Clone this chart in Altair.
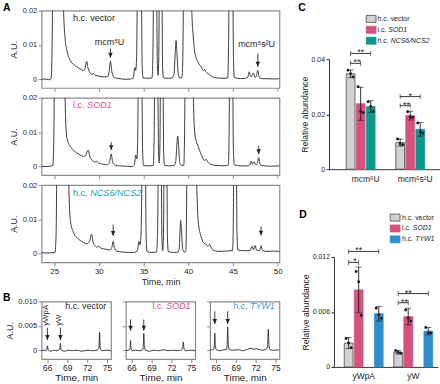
import altair as alt
import pandas as pd

# ---------------- Panel A: chromatograms (time, min ; absorbance, A.U.) ----------------
A1_trace = [(23.6, 0.0000), (24.0, 0.0001), (24.4, -0.0001), (24.65, 0.0002), (24.75, 0.006), (24.85, 0.03),
            (25.4, 0.09), (25.95, 0.03), (26.08, 0.018), (26.25, 0.0113), (26.43, 0.0084), (26.8, 0.0055),
            (27.2, 0.0043), (27.55, 0.0036), (27.9, 0.003), (28.26, 0.0026), (28.45, 0.0031), (28.63, 0.0053),
            (28.8, 0.0032), (29.07, 0.0018), (29.25, 0.0014), (29.44, 0.0017), (29.6, 0.0012), (30.1, 0.0009),
            (30.6, 0.0007), (31.0, 0.0008), (31.15, 0.0022), (31.3, 0.0053), (31.45, 0.0022), (31.75, 0.0005),
            (32.4, 0.0002), (33.03, 0.0000), (33.5, 0.0001), (33.85, 0.0004), (34.02, 0.0034), (34.12, 0.0026),
            (34.22, 0.006), (34.32, 0.03), (34.55, 0.07), (34.75, 0.03), (34.85, 0.004), (34.95, 0.0004),
            (35.5, 0.0003), (35.95, 0.0004), (36.05, 0.008), (36.12, 0.03), (36.3, 0.06), (36.45, 0.03),
            (36.55, 0.004), (36.62, 0.0012), (36.7, 0.006), (36.77, 0.03), (36.9, 0.06), (37.05, 0.03),
            (37.13, 0.004), (37.22, 0.0005), (37.7, 0.0003), (38.2, 0.0004), (38.4, 0.0015), (38.55, 0.008),
            (38.64, 0.0113), (38.73, 0.008), (38.88, 0.0015), (39.05, 0.0004), (39.3, 0.0006), (39.4, 0.008),
            (39.48, 0.03), (39.9, 0.1), (40.3, 0.03), (40.42, 0.018), (40.55, 0.0128), (40.73, 0.0079),
            (41.1, 0.005), (41.46, 0.0036), (41.7, 0.0025), (41.83, 0.0029), (41.95, 0.0022), (42.2, 0.0017),
            (42.75, 0.0007), (43.3, 0.0004), (44.0, 0.0003), (44.4, 0.0004), (44.5, 0.008), (44.58, 0.03),
            (44.78, 0.07), (44.98, 0.03), (45.06, 0.006), (45.15, 0.0006), (45.8, 0.0002), (46.4, 0.0003),
            (46.65, 0.0006), (46.82, 0.0022), (46.98, 0.0008), (47.12, 0.0009), (47.3, 0.0018), (47.45, 0.0006),
            (47.6, 0.0008), (47.78, 0.0026), (47.95, 0.0005), (48.3, 0.0002), (48.8, 0.0002), (49.4, 0.0001),
            (50.2, 0.0002)]
A2_trace = [(23.6, 0.0001), (24.1, 0.0000), (24.5, 0.0001), (24.85, 0.0003), (24.95, 0.006), (25.05, 0.03),
            (25.6, 0.09), (26.15, 0.03), (26.28, 0.014), (26.43, 0.0083), (26.8, 0.0059), (27.15, 0.0048),
            (27.53, 0.004), (27.9, 0.0034), (28.26, 0.003), (28.5, 0.0032), (28.81, 0.0048), (29.0, 0.0028),
            (29.36, 0.0016), (29.55, 0.0013), (29.73, 0.0016), (29.95, 0.0011), (30.43, 0.0007), (30.9, 0.0005),
            (31.2, 0.0013), (31.38, 0.0037), (31.55, 0.0013), (31.85, 0.0004), (32.3, 0.0002), (33.0, 0.0001),
            (33.73, 0.0000), (33.98, 0.0006), (34.13, 0.0034), (34.24, 0.0022), (34.33, 0.006), (34.42, 0.03),
            (34.62, 0.07), (34.8, 0.03), (34.9, 0.004), (35.0, 0.0003), (35.6, 0.0002), (36.08, 0.0003),
            (36.18, 0.008), (36.25, 0.03), (36.42, 0.06), (36.58, 0.03), (36.68, 0.004), (36.75, 0.0011),
            (36.83, 0.006), (36.9, 0.03), (37.02, 0.06), (37.17, 0.03), (37.25, 0.004), (37.34, 0.0004),
            (37.9, 0.0002), (38.4, 0.0003), (38.6, 0.0015), (38.73, 0.0065), (38.82, 0.0089), (38.91, 0.0065),
            (39.05, 0.0012), (39.25, 0.0003), (39.5, 0.0004), (39.58, 0.008), (39.66, 0.03), (40.1, 0.1),
            (40.5, 0.03), (40.6, 0.017), (40.73, 0.0097), (41.1, 0.0059), (41.46, 0.0035), (41.8, 0.0018),
            (42.0, 0.0021), (42.2, 0.0013), (42.56, 0.0006), (43.2, 0.0003), (44.0, 0.0002), (44.48, 0.0004),
            (44.56, 0.008), (44.63, 0.03), (44.8, 0.07), (44.97, 0.03), (45.04, 0.006), (45.14, 0.0005),
            (45.9, 0.0002), (46.6, 0.0002), (46.88, 0.0005), (47.04, 0.0016), (47.18, 0.0007), (47.37, 0.0014),
            (47.55, 0.0005), (47.7, 0.0008), (47.88, 0.0026), (48.05, 0.0005), (48.5, 0.0002), (49.2, 0.0001),
            (50.2, 0.0002)]
A3_trace = [(23.6, 0.0004), (24.2, 0.0002), (24.7, 0.0003), (25.1, 0.0004), (25.22, 0.006), (25.32, 0.03),
            (25.95, 0.09), (26.55, 0.03), (26.68, 0.016), (26.8, 0.010), (27.16, 0.0062), (27.5, 0.0048),
            (27.9, 0.0039), (28.3, 0.0033), (28.63, 0.0029), (28.95, 0.0036), (29.18, 0.0057), (29.35, 0.0034),
            (29.55, 0.0024), (29.78, 0.0019), (29.99, 0.0022), (30.25, 0.0016), (30.83, 0.0013), (31.25, 0.0011),
            (31.45, 0.0018), (31.6, 0.0036), (31.75, 0.0018), (32.0, 0.0008), (32.6, 0.0005), (33.3, 0.0004),
            (33.9, 0.0004), (34.3, 0.0008), (34.48, 0.0036), (34.6, 0.0026), (34.72, 0.006), (34.85, 0.03),
            (35.02, 0.07), (35.2, 0.03), (35.3, 0.004), (35.4, 0.0006), (35.9, 0.0004), (36.45, 0.0005),
            (36.58, 0.008), (36.65, 0.03), (36.8, 0.06), (36.97, 0.03), (37.06, 0.004), (37.14, 0.0009),
            (37.23, 0.006), (37.3, 0.03), (37.45, 0.06), (37.6, 0.03), (37.68, 0.004), (37.78, 0.0006),
            (38.4, 0.0004), (38.85, 0.0005), (39.0, 0.0018), (39.08, 0.007), (39.15, 0.0097), (39.24, 0.007),
            (39.38, 0.0013), (39.55, 0.0005), (39.72, 0.0007), (39.79, 0.008), (39.86, 0.03), (40.35, 0.1),
            (40.85, 0.03), (40.97, 0.018), (41.1, 0.0097), (41.46, 0.0048), (41.75, 0.0031), (42.0, 0.0027),
            (42.2, 0.0022), (42.38, 0.0027), (42.6, 0.0016), (42.93, 0.0009), (43.5, 0.0007), (44.3, 0.0008),
            (44.95, 0.0009), (45.03, 0.008), (45.1, 0.03), (45.23, 0.07), (45.38, 0.03), (45.45, 0.006),
            (45.55, 0.0011), (46.2, 0.0009), (46.9, 0.0009), (47.15, 0.0022), (47.3, 0.0012), (47.48, 0.0024),
            (47.65, 0.001), (47.95, 0.0009), (48.14, 0.0024), (48.32, 0.0009), (48.8, 0.0007), (49.5, 0.0008),
            (50.2, 0.0007)]
# arrows: (time, top, tip)
A1_arrows = [(31.3, 0.0090, 0.0063), (47.78, 0.0075, 0.0037)]
A2_arrows = [(31.38, 0.0071, 0.0048), (47.88, 0.0060, 0.0036)]
A3_arrows = [(31.6, 0.0085, 0.0052), (48.14, 0.0080, 0.0053)]
A_xticks = [25, 30, 35, 40, 45, 50]

# ---------------- Panel B: chromatograms 65-75 min ----------------
B1_trace = [(65.15, -0.0001), (65.5, 0.0000), (65.8, -0.0001), (65.93, 0.0002), (66.02, 0.0009), (66.12, 0.0001),
            (66.5, -0.0002), (67.0, 0.0000), (67.5, -0.0001), (67.88, 0.0002), (67.98, 0.0014), (68.08, 0.0001),
            (68.6, -0.0002), (69.2, 0.0000), (69.8, -0.0001), (70.5, 0.0000), (71.2, -0.0002), (72.0, 0.0000),
            (72.8, -0.0001), (73.5, 0.0000), (73.78, 0.0004), (73.88, 0.0037), (73.98, 0.0004), (74.2, -0.0001),
            (74.8, 0.0000), (75.6, -0.0001)]
B2_trace = [(65.15, -0.0001), (65.5, 0.0000), (65.72, 0.0001), (65.8, 0.0008), (65.86, 0.0020), (65.93, 0.0006),
            (66.1, -0.0001), (66.6, 0.0000), (67.2, -0.0001), (67.7, 0.0001), (67.78, 0.0012), (67.85, 0.0035),
            (67.93, 0.0010), (68.1, 0.0000), (68.7, -0.0002), (69.4, 0.0000), (70.1, -0.0001), (70.8, 0.0001),
            (71.5, -0.0001), (72.2, 0.0000), (72.9, -0.0001), (73.55, 0.0001), (73.7, 0.0005), (73.8, 0.0017),
            (73.9, 0.0004), (74.1, -0.0001), (74.8, 0.0000), (75.6, -0.0001)]
B3_trace = [(65.15, 0.0000), (65.5, 0.0001), (65.72, 0.0002), (65.8, 0.0014), (65.86, 0.0035), (65.93, 0.0010),
            (66.1, 0.0001), (66.6, -0.0001), (67.2, 0.0001), (67.65, 0.0002), (67.73, 0.0018), (67.8, 0.0048),
            (67.88, 0.0015), (68.05, 0.0001), (68.7, 0.0000), (69.4, 0.0001), (70.1, -0.0001), (70.8, 0.0002),
            (71.3, 0.0004), (71.7, 0.0002), (72.2, 0.0003), (72.9, 0.0000), (73.6, 0.0002), (73.82, 0.0010),
            (73.92, 0.0043), (74.02, 0.0010), (74.2, 0.0001), (74.8, 0.0000), (75.6, 0.0001)]
B1_arrows = [(66.02, 0.0046, 0.0021), (67.98, 0.0046, 0.0021)]
B2_arrows = [(65.86, 0.0063, 0.0040), (67.85, 0.0063, 0.0040)]
B3_arrows = [(65.86, 0.0080, 0.0054), (67.8, 0.0080, 0.0054)]
B_xticks = [66, 69, 72, 75]

# ---------------- Panel C ----------------
C_groups = ["mcm⁵U", "mcm⁵s²U"]
C_series = ["h.c. vector", "l.c. SOD1", "h.c. NCS6/NCS2"]
C_mean = [[0.0347, 0.0238, 0.0228], [0.0097, 0.0195, 0.0145]]
C_sd = [[0.0014, 0.0060, 0.0021], [0.0013, 0.0016, 0.0025]]
C_points = [[[0.0360, 0.0347, 0.0335], [0.0300, 0.0210, 0.0205], [0.0245, 0.0228, 0.0210]],
            [[0.0110, 0.0093, 0.0089], [0.0209, 0.0190, 0.0188], [0.0168, 0.0136, 0.0131]]]
C_sig = [("mcm⁵U", 0, 2, 0.0421, "**"), ("mcm⁵U", 0, 1, 0.0385, "**"),
         ("mcm⁵s²U", 0, 2, 0.0264, "*"), ("mcm⁵s²U", 0, 1, 0.0231, "**")]

# ---------------- Panel D ----------------
D_groups = ["yWpA", "yW"]
D_series = ["h.c. vector", "l.c. SOD1", "h.c. TYW1"]
D_mean = [[0.0026, 0.0084, 0.0058], [0.0016, 0.0055, 0.0039]]
D_sd = [[0.0006, 0.0025, 0.0008], [0.0002, 0.0009, 0.0004]]
D_points = [[[0.0031, 0.0026, 0.0021], [0.0104, 0.0093, 0.0056], [0.0064, 0.0057, 0.0053]],
            [[0.0018, 0.0016, 0.0015], [0.0062, 0.0053, 0.0050], [0.0043, 0.0037, 0.0037]]]
D_sig = [("yWpA", 0, 2, 0.0126, "**"), ("yWpA", 0, 1, 0.0114, "*"),
         ("yW", 0, 2, 0.0080, "**"), ("yW", 0, 1, 0.0070, "**")]

# ---------------- styles ----------------
FONT = "Liberation Sans"
TXT = "#1e1e1e"
FRAME = "#8a8a8a"
LINE = "#262626"
GRAY = "#d2d2d2"
PINK = "#d5517f"
TEAL = "#10978d"
BLUE = "#2e8ecb"
PINK_T = "#df4f8a"
TEAL_T = "#17a3a3"
BLUE_T = "#3a9bdb"
HEAD = "M-1,-2.2L1,-2.2L0,0Z"
FRAME_VIEW = alt.ViewBackground(stroke=FRAME, strokeWidth=1.2, strokeOpacity=1)

CW = {'h': .556, '.': .278, 'c': .5, ' ': .278, 'l': .222, 'v': .5, 'e': .556, 't': .278, 'o': .556,
      'r': .333, 'S': .667, 'O': .778, 'D': .722, '1': .556, 'N': .722, 'C': .722, '6': .556, '/': .278,
      '2': .556, 'T': .611, 'Y': .667, 'W': .944}


def tw(s, fs):
    return sum(CW.get(ch, .556) for ch in s) * fs


def letter(s, xpx, ypx):
    return alt.Chart(pd.DataFrame({"s": [s]})).mark_text(
        align="left", baseline="alphabetic", fontSize=10.5, fontWeight="bold", color="#000000").encode(
        x=alt.value(xpx), y=alt.value(ypx), text="s:N")


def two_part(X, Y, t, v, prefix, gene, color, fs, align):
    df = pd.DataFrame({"t": [t], "v": [v], "p": [prefix.strip()], "g": [gene]})
    base = alt.Chart(df)
    if align == "left":
        l1 = base.mark_text(align="left", baseline="middle", fontSize=fs, color=color).encode(x=X, y=Y, text="p:N")
        l2 = base.mark_text(align="left", baseline="middle", fontSize=fs, color=color, fontStyle="italic",
                            dx=tw(prefix, fs)).encode(x=X, y=Y, text="g:N")
    else:
        l2 = base.mark_text(align="right", baseline="middle", fontSize=fs, color=color,
                            fontStyle="italic").encode(x=X, y=Y, text="g:N")
        gap = tw(gene + " ", fs) if gene else 0
        l1 = base.mark_text(align="right", baseline="middle", fontSize=fs, color=color,
                            dx=-gap).encode(x=X, y=Y, text="p:N")
    return [l1, l2]


def arrow_layers(X, Y, arrows):
    df = pd.DataFrame({"t": [a[0] for a in arrows], "v": [a[1] for a in arrows], "v2": [a[2] for a in arrows]})
    hd = pd.DataFrame({"t": [a[0] for a in arrows], "v": [a[2] for a in arrows]})
    shaft = alt.Chart(df).mark_rule(color=LINE, strokeWidth=0.9).encode(x=X, y=Y, y2="v2:Q")
    head = alt.Chart(hd).mark_point(shape=HEAD, filled=True, size=20, color=LINE, opacity=1).encode(x=X, y=Y)
    return [shaft, head]


def chrom_A(trace, arrows, show_x, prefix, gene, color, extra=None, extra_layers=None):
    xax = dict(values=A_xticks, tickSize=3.5, tickColor=FRAME, domain=False, grid=False, labels=show_x,
               labelFontSize=8, labelPadding=1.5)
    if show_x:
        xax.update(title="Time, min", titleFontSize=9, titlePadding=2.5)
    else:
        xax.update(title=None)
    X = alt.X("t:Q", scale=alt.Scale(domain=[23.6, 50.2], nice=False, zero=False), axis=alt.Axis(**xax))
    Y = alt.Y("v:Q", scale=alt.Scale(domain=[-0.0025, 0.02], nice=False, zero=False),
              axis=alt.Axis(values=[0, 0.01, 0.02], tickSize=3.5, tickColor=FRAME, domain=False, grid=False,
                            labelExpr="datum.value == 0 ? '0' : format(datum.value, '.2f')",
                            labelFontSize=7.5, labelPadding=1.5, title="A.U.", titleFontSize=9,
                            titlePadding=4))
    df = pd.DataFrame({"t": [p[0] for p in trace], "v": [p[1] for p in trace]})
    line = alt.Chart(df).mark_line(clip=True, color=LINE, strokeWidth=0.9, interpolate="monotone").encode(x=X, y=Y)
    layers = [line] + arrow_layers(X, Y, arrows) + two_part(X, Y, 27.1, 0.0178, prefix, gene, color, 9.2, "left")
    if extra:
        for (t, v, s) in extra:
            layers.append(alt.Chart(pd.DataFrame({"t": [t], "v": [v], "s": [s]})).mark_text(
                align="center", baseline="middle", fontSize=9, color=TXT).encode(x=X, y=Y, text="s:N"))
    if extra_layers:
        layers += extra_layers
    return alt.layer(*layers).properties(width=240, height=78, view=FRAME_VIEW)


def chrom_B(trace, arrows, show_y, prefix, gene, color, extra_rot=None, extra_layers=None):
    yax = dict(values=[0, 0.005, 0.01], tickSize=3.5, tickColor=FRAME, domain=False, grid=False,
               labels=show_y, labelExpr="datum.value == 0 ? '0' : format(datum.value, '.3f')",
               labelFontSize=7.6, labelPadding=1.5)
    if show_y:
        yax.update(title="A.U.", titleFontSize=9, titlePadding=3)
    else:
        yax.update(title=None)
    X = alt.X("t:Q", scale=alt.Scale(domain=[65.15, 75.6], nice=False, zero=False),
              axis=alt.Axis(values=B_xticks, tickSize=3.5, tickColor=FRAME, domain=False, grid=False,
                            labelFontSize=8.5, labelPadding=1, title="Time, min", titleFontSize=10,
                            titlePadding=1))
    Y = alt.Y("v:Q", scale=alt.Scale(domain=[-0.0018, 0.010], nice=False, zero=False), axis=alt.Axis(**yax))
    df = pd.DataFrame({"t": [p[0] for p in trace], "v": [p[1] for p in trace]})
    line = alt.Chart(df).mark_line(clip=True, color=LINE, strokeWidth=0.9, interpolate="monotone").encode(x=X, y=Y)
    layers = [line] + arrow_layers(X, Y, arrows) + two_part(X, Y, 74.9, 0.0091, prefix, gene, color, 9, "right")
    if extra_rot:
        for (t, v, s) in extra_rot:
            layers.append(alt.Chart(pd.DataFrame({"t": [t], "v": [v], "s": [s]})).mark_text(
                align="left", baseline="middle", angle=270, fontSize=8, color=TXT).encode(x=X, y=Y, text="s:N"))
    if extra_layers:
        layers += extra_layers
    return alt.layer(*layers).properties(width=70, height=58, view=FRAME_VIEW)


def circle_path(off_units):
    a, b = off_units - 1, off_units + 1
    return f"M{a},0A1,1 0 1,1 {b},0A1,1 0 1,1 {a},0Z"


def bar_panel(tag, groups, series, fills, strokes, means, sds, points, sigs, ydom, yvals, yfmt, width, po):
    gf, sf = f"group{tag}", f"series{tag}"
    recs = []
    for gi, g in enumerate(groups):
        for si, s in enumerate(series):
            m, sd = means[gi][si], sds[gi][si]
            recs.append({gf: g, sf: s, "mean": m, "lo": m - sd, "hi": m + sd})
    bdf = pd.DataFrame(recs)
    xs = alt.Scale(domain=groups, paddingInner=0, paddingOuter=po, align=1)
    X = alt.X(f"{gf}:N", sort=groups, scale=xs,
              axis=alt.Axis(title=None, ticks=False, tickSize=0, labelAngle=0, labelFontSize=8.5, labelPadding=5,
                            domainColor=TXT, domainWidth=0.9, grid=False))
    XO = alt.XOffset(f"{sf}:N", sort=series, scale=alt.Scale(domain=series, paddingInner=0.13, paddingOuter=0.53))
    ysc = alt.Scale(domain=ydom, nice=False, zero=True)
    yax = alt.Axis(values=yvals, labelExpr=f"datum.value == 0 ? '0' : format(datum.value, '{yfmt}')",
                   tickSize=3, tickColor=TXT, domainColor=TXT, domainWidth=0.9, labelFontSize=7, labelPadding=1.5,
                   title="Relative abundance", titleFontSize=8.7, titlePadding=1.5, grid=False)

    def Y(f):
        return alt.Y(f"{f}:Q", scale=ysc, axis=yax)

    fill = alt.Fill(f"{sf}:N", scale=alt.Scale(domain=series, range=fills), legend=None)
    stroke = alt.Stroke(f"{sf}:N", scale=alt.Scale(domain=series, range=strokes), legend=None)
    bars = alt.Chart(bdf).mark_bar(strokeWidth=0.8).encode(x=X, xOffset=XO, y=Y("mean"), fill=fill, stroke=stroke)
    err = alt.Chart(bdf).mark_rule(color=TXT, strokeWidth=0.9).encode(x=X, xOffset=XO, y=Y("lo"), y2="hi:Q")
    cap_hi = alt.Chart(bdf).mark_tick(orient="horizontal", size=6, thickness=0.9, color=TXT).encode(
        x=X, xOffset=XO, y=Y("hi"))
    cap_lo = alt.Chart(bdf).mark_tick(orient="horizontal", size=6, thickness=0.9, color=TXT).encode(
        x=X, xOffset=XO, y=Y("lo"))
    layers = [bars, err, cap_hi, cap_lo]
    offs = [-2.6, 0.0, 2.6]
    for r in range(3):
        prec = []
        for gi, g in enumerate(groups):
            for si, s in enumerate(series):
                prec.append({gf: g, sf: s, "val": points[gi][si][r]})
        layers.append(alt.Chart(pd.DataFrame(prec)).mark_point(
            shape=circle_path(offs[r] / 1.5), size=9, filled=True, color=TXT, opacity=1).encode(
            x=X, xOffset=XO, y=Y("val")))
    lrec, srec_wide, srec_narrow = [], [], []
    for bi, (g, a, b, yv, lab) in enumerate(sigs):
        lrec.append({"bid": bi, "end": 0, gf: g, sf: series[a], "by": yv})
        lrec.append({"bid": bi, "end": 1, gf: g, sf: series[b], "by": yv})
        if b - a == 2:
            srec_wide.append({gf: g, sf: series[a + 1], "by": yv, "lab": lab})
        else:
            srec_narrow.append({gf: g, sf: series[a], "by": yv, "lab": lab})
    ldf = pd.DataFrame(lrec)
    layers.append(alt.Chart(ldf).mark_line(color=TXT, strokeWidth=0.9).encode(
        x=X, xOffset=XO, y=Y("by"), detail="bid:N", order="end:Q"))
    layers.append(alt.Chart(ldf).mark_tick(orient="vertical", size=5, thickness=0.9, color=TXT).encode(
        x=X, xOffset=XO, y=Y("by")))
    layers.append(alt.Chart(pd.DataFrame(srec_wide)).mark_text(fontSize=9, baseline="alphabetic", dy=2,
                                                               color=TXT).encode(
        x=X, xOffset=XO, y=Y("by"), text="lab:N"))
    layers.append(alt.Chart(pd.DataFrame(srec_narrow)).mark_text(fontSize=9, baseline="alphabetic", dy=2, dx=6.4,
                                                                 color=TXT).encode(
        x=X, xOffset=XO, y=Y("by"), text="lab:N"))
    return alt.layer(*layers).properties(width=width, height=111)


def legend_chart(tag, series, fills, strokes, prefixes, genes, sw_x, tx_x, letter_layer):
    sf = f"series{tag}"
    df = pd.DataFrame({"row": [0, 1, 2], sf: series})
    Y = alt.Y("row:Q", scale=alt.Scale(domain=[-0.7545, 2.518], reverse=True, nice=False, zero=False), axis=None)
    fill = alt.Fill(f"{sf}:N", scale=alt.Scale(domain=series, range=fills), legend=None)
    stroke = alt.Stroke(f"{sf}:N", scale=alt.Scale(domain=series, range=strokes), legend=None)
    sw = alt.Chart(df).mark_point(shape="M-1.4,-1L1.4,-1L1.4,1L-1.4,1Z", size=50, filled=True, opacity=1,
                                  strokeWidth=0.8).encode(x=alt.value(sw_x), y=Y, fill=fill, stroke=stroke)
    layers = [sw]
    for i in range(3):
        d = pd.DataFrame({"row": [i], "p": [prefixes[i].strip()], "g": [genes[i]]})
        layers.append(alt.Chart(d).mark_text(align="left", baseline="middle", fontSize=7, color=TXT).encode(
            x=alt.value(tx_x), y=Y, text="p:N"))
        layers.append(alt.Chart(d).mark_text(align="left", baseline="middle", fontSize=7, color=TXT,
                                             fontStyle="italic", dx=tw(prefixes[i], 7)).encode(
            x=alt.value(tx_x), y=Y, text="g:N"))
    layers.append(letter_layer)
    return alt.layer(*layers).properties(width=110, height=36)


A1 = chrom_A(A1_trace, A1_arrows, False, "h.c. vector", "", TXT,
             extra=[(31.2, 0.0108, "mcm⁵U"), (47.64, 0.0103, "mcm⁵s²U")], extra_layers=[letter("A", -39, 0)])
A2 = chrom_A(A2_trace, A2_arrows, False, "l.c. ", "SOD1", PINK_T)
A3 = chrom_A(A3_trace, A3_arrows, True, "h.c. ", "NCS6/NCS2", TEAL_T)

B1 = chrom_B(B1_trace, B1_arrows, True, "h.c. vector", "", TXT,
             extra_rot=[(65.75, 0.0050, "yWpA"), (67.7, 0.0050, "yW")], extra_layers=[letter("B", -39, -1)])
B2 = chrom_B(B2_trace, B2_arrows, False, "l.c. ", "SOD1", PINK_T)
B3 = chrom_B(B3_trace, B3_arrows, False, "h.c. ", "TYW1", BLUE_T)

C = bar_panel("C", C_groups, C_series, [GRAY, PINK, TEAL], ["#4a4a4a", PINK, TEAL], C_mean, C_sd, C_points,
              C_sig, [0, 0.04], [0, 0.02, 0.04], ".2f", 112, 0.12)
D = bar_panel("D", D_groups, D_series, [GRAY, PINK, BLUE], ["#4a4a4a", PINK, BLUE], D_mean, D_sd, D_points,
              D_sig, [0, 0.012], [0, 0.006, 0.012], ".3f", 105, 0.05)

legC = legend_chart("C", C_series, [GRAY, PINK, TEAL], ["#4a4a4a", PINK, TEAL], ["h.c. vector", "l.c. ", "h.c. "],
                    ["", "SOD1", "NCS6/NCS2"], 42.5, 49, letter("C", -31, 0))
legD = legend_chart("D", D_series, [GRAY, PINK, BLUE], ["#4a4a4a", PINK, BLUE], ["h.c. vector", "l.c. ", "h.c. "],
                    ["", "SOD1", "TYW1"], 66.7, 73.7, letter("D", -30, 9))

spacer = alt.Chart(pd.DataFrame({"z": [0]})).mark_point(opacity=0).encode(
    x=alt.value(0), y=alt.value(0)).properties(width=1, height=1)

A_block = alt.vconcat(A1, A2, A3, spacing=10, bounds="flush")
B_row = alt.hconcat(B1, B2, B3, spacing=15, bounds="flush")
left = alt.vconcat(A_block, B_row, spacing=3.5)
C_block = alt.vconcat(legC, C, spacing=13, bounds="flush")
D_pair = alt.hconcat(spacer, D, spacing=4, bounds="flush")
D_block = alt.vconcat(legD, D_pair, spacing=12, bounds="flush")
right = alt.vconcat(C_block, D_block, spacing=26.5).resolve_scale(fill="independent", stroke="independent")

chart = alt.hconcat(left, right, spacing=15).resolve_scale(
    fill="independent", stroke="independent"
).properties(
    padding={"left": 2, "top": 0, "right": 0, "bottom": 0}
).configure(font=FONT).configure_axis(
    labelColor=TXT, titleColor=TXT, grid=False, titleFontWeight="normal", labelFont=FONT, titleFont=FONT
).configure_view(strokeOpacity=0).configure_text(font=FONT)

chart.save("out.html", embed_options={"renderer": "svg", "actions": False})
